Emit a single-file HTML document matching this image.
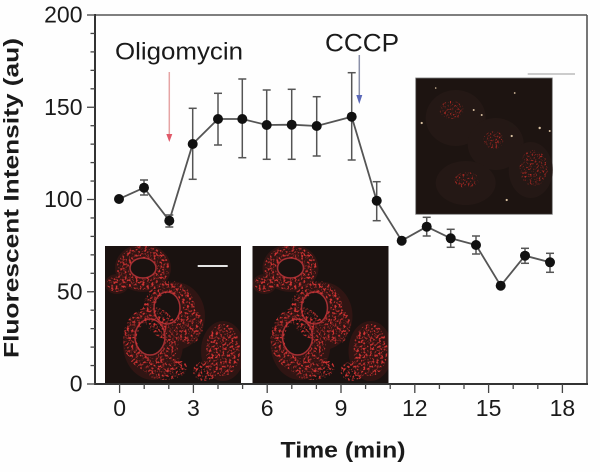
<!DOCTYPE html>
<html><head><meta charset="utf-8">
<style>
html,body{margin:0;padding:0;background:#fefefe;}
svg{display:block;}
text{font-family:"Liberation Sans",Arial,sans-serif;fill:#1a1a1a;}
</style></head>
<body>
<svg width="600" height="472" viewBox="0 0 600 472" xmlns="http://www.w3.org/2000/svg">
<defs>
  <filter id="sp" x="0" y="0" width="136" height="137" filterUnits="userSpaceOnUse" color-interpolation-filters="sRGB">
    <feTurbulence type="fractalNoise" baseFrequency="0.45" numOctaves="2" seed="4" result="n"/>
    <feColorMatrix in="n" type="matrix" values="0 0 0 0 0.82  0 0 0 0 0.2  0 0 0 0 0.2  5 0 0 0 -2.45" result="c"/>
    <feComposite in="c" in2="SourceAlpha" operator="in"/>
  </filter>
  <filter id="sp3" x="0" y="0" width="137" height="137" filterUnits="userSpaceOnUse" color-interpolation-filters="sRGB">
    <feTurbulence type="fractalNoise" baseFrequency="0.55" numOctaves="2" seed="9" result="n"/>
    <feColorMatrix in="n" type="matrix" values="0 0 0 0 0.7  0 0 0 0 0.16  0 0 0 0 0.14  5 0 0 0 -2.7" result="c"/>
    <feComposite in="c" in2="SourceAlpha" operator="in"/>
  </filter>
  <clipPath id="cl"><rect x="0" y="0" width="136" height="137"/></clipPath>
  <g id="cells">
    <rect x="0" y="0" width="136" height="137" fill="#1a1210"/>
    <g clip-path="url(#cl)">
      <g fill="#3c1715" opacity="0.65">
        <ellipse cx="38" cy="22" rx="28" ry="24"/>
        <ellipse cx="12" cy="38" rx="12" ry="10"/>
        <ellipse cx="70" cy="70" rx="30" ry="34"/>
        <ellipse cx="48" cy="98" rx="30" ry="36"/>
        <ellipse cx="118" cy="105" rx="22" ry="30"/>
      </g>
      <g fill="#1a1210">
        <ellipse cx="38" cy="22" rx="12" ry="9"/>
        <ellipse cx="62" cy="62" rx="12" ry="15"/>
        <ellipse cx="45" cy="91" rx="14" ry="17"/>
      </g>
      <g fill="none" stroke="#b8353a" stroke-width="1.5" opacity="0.85">
        <ellipse cx="62" cy="62" rx="13" ry="16"/>
        <ellipse cx="45" cy="91" rx="15" ry="18"/>
        <ellipse cx="38" cy="22" rx="13" ry="10"/>
      </g>
      <g filter="url(#sp)">
        <ellipse cx="38" cy="22" rx="20" ry="16" fill="none" stroke="#fff" stroke-width="12"/>
        <ellipse cx="12" cy="38" rx="10" ry="8" fill="#fff"/>
        <ellipse cx="64" cy="64" rx="20" ry="23" fill="none" stroke="#fff" stroke-width="12"/>
        <ellipse cx="84" cy="80" rx="14" ry="18" fill="#fff"/>
        <ellipse cx="46" cy="93" rx="21" ry="25" fill="none" stroke="#fff" stroke-width="14"/>
        <ellipse cx="60" cy="122" rx="22" ry="12" fill="#fff"/>
        <ellipse cx="118" cy="104" rx="17" ry="26" fill="#fff"/>
        <ellipse cx="100" cy="125" rx="12" ry="10" fill="#fff"/>
      </g>
    </g>
  </g>
</defs>

<!-- axes box -->
<line x1="95" y1="15" x2="587" y2="15" stroke="#555" stroke-width="1.6"/>
<line x1="587" y1="15" x2="587" y2="384" stroke="#555" stroke-width="1.6"/>
<line x1="95" y1="14" x2="95" y2="385" stroke="#333" stroke-width="2"/>
<line x1="94" y1="384" x2="588" y2="384" stroke="#333" stroke-width="2"/>

<!-- y ticks -->
<g stroke="#444" stroke-width="1.3">
  <line x1="87" y1="15" x2="95" y2="15"/>
  <line x1="87" y1="107.25" x2="95" y2="107.25"/>
  <line x1="87" y1="199.5" x2="95" y2="199.5"/>
  <line x1="87" y1="291.75" x2="95" y2="291.75"/>
  <line x1="87" y1="384" x2="95" y2="384"/>
  <line x1="90.5" y1="33.45" x2="95" y2="33.45"/>
  <line x1="90.5" y1="51.9" x2="95" y2="51.9"/>
  <line x1="90.5" y1="70.35" x2="95" y2="70.35"/>
  <line x1="90.5" y1="88.8" x2="95" y2="88.8"/>
  <line x1="90.5" y1="125.7" x2="95" y2="125.7"/>
  <line x1="90.5" y1="144.15" x2="95" y2="144.15"/>
  <line x1="90.5" y1="162.6" x2="95" y2="162.6"/>
  <line x1="90.5" y1="181.05" x2="95" y2="181.05"/>
  <line x1="90.5" y1="217.95" x2="95" y2="217.95"/>
  <line x1="90.5" y1="236.4" x2="95" y2="236.4"/>
  <line x1="90.5" y1="254.85" x2="95" y2="254.85"/>
  <line x1="90.5" y1="273.3" x2="95" y2="273.3"/>
  <line x1="90.5" y1="310.2" x2="95" y2="310.2"/>
  <line x1="90.5" y1="328.65" x2="95" y2="328.65"/>
  <line x1="90.5" y1="347.1" x2="95" y2="347.1"/>
  <line x1="90.5" y1="365.55" x2="95" y2="365.55"/>
</g>
<!-- x ticks -->
<g stroke="#444" stroke-width="1.3">
  <line x1="119.6" y1="384" x2="119.6" y2="393"/>
  <line x1="193.4" y1="384" x2="193.4" y2="393"/>
  <line x1="267.2" y1="384" x2="267.2" y2="393"/>
  <line x1="341" y1="384" x2="341" y2="393"/>
  <line x1="414.8" y1="384" x2="414.8" y2="393"/>
  <line x1="488.6" y1="384" x2="488.6" y2="393"/>
  <line x1="562.4" y1="384" x2="562.4" y2="393"/>
  <line x1="144.2" y1="384" x2="144.2" y2="389"/>
  <line x1="168.8" y1="384" x2="168.8" y2="389"/>
  <line x1="218" y1="384" x2="218" y2="389"/>
  <line x1="242.6" y1="384" x2="242.6" y2="389"/>
  <line x1="291.8" y1="384" x2="291.8" y2="389"/>
  <line x1="316.4" y1="384" x2="316.4" y2="389"/>
  <line x1="365.6" y1="384" x2="365.6" y2="389"/>
  <line x1="390.2" y1="384" x2="390.2" y2="389"/>
  <line x1="439.4" y1="384" x2="439.4" y2="389"/>
  <line x1="464" y1="384" x2="464" y2="389"/>
  <line x1="513.2" y1="384" x2="513.2" y2="389"/>
  <line x1="537.8" y1="384" x2="537.8" y2="389"/>
</g>

<!-- y tick labels -->
<g font-size="23" text-anchor="end">
  <text x="82.5" y="22.5">200</text>
  <text x="82.5" y="114.8">150</text>
  <text x="82.5" y="207">100</text>
  <text x="82.5" y="299.3">50</text>
  <text x="82.5" y="391.5">0</text>
</g>
<!-- x tick labels -->
<g font-size="23" text-anchor="middle">
  <text x="119.6" y="416">0</text>
  <text x="193.4" y="416">3</text>
  <text x="267.2" y="416">6</text>
  <text x="341" y="416">9</text>
  <text x="414.8" y="416">12</text>
  <text x="488.6" y="416">15</text>
  <text x="562.4" y="416">18</text>
</g>

<!-- axis titles -->
<text x="280.5" y="457.7" font-size="22" font-weight="bold" textLength="125" lengthAdjust="spacingAndGlyphs">Time (min)</text>
<text transform="translate(18.5,358) rotate(-90)" x="0" y="0" font-size="21" font-weight="bold" textLength="320" lengthAdjust="spacingAndGlyphs">Fluorescent Intensity (au)</text>

<!-- annotations -->
<text x="115" y="59.3" font-size="24" textLength="128" lengthAdjust="spacingAndGlyphs">Oligomycin</text>
<text x="325" y="51.7" font-size="25" textLength="74" lengthAdjust="spacingAndGlyphs">CCCP</text>
<line x1="169.3" y1="72" x2="169.3" y2="137" stroke="#e6a4a4" stroke-width="1.5"/>
<polygon points="166.3,134 172.3,134 169.3,142" fill="#e05868"/>
<line x1="359.3" y1="55" x2="359.3" y2="97" stroke="#8a90a8" stroke-width="1.5"/>
<polygon points="356.3,95 362.3,95 359.3,104" fill="#5a68b8"/>

<!-- inset images -->
<g transform="translate(105,246)"><use href="#cells"/></g>
<line x1="197.7" y1="266" x2="227.7" y2="266" stroke="#e4e4e4" stroke-width="2"/>
<g transform="translate(252.5,246)"><use href="#cells"/></g>

<g transform="translate(415.7,78)">
  <rect x="0" y="0" width="136.6" height="136.3" fill="#1d1411" stroke="#777" stroke-width="0.8"/>
  <g fill="#251916" opacity="0.9">
    <ellipse cx="40" cy="40" rx="30" ry="28"/>
    <ellipse cx="80" cy="66" rx="28" ry="26"/>
    <ellipse cx="115" cy="92" rx="22" ry="28"/>
    <ellipse cx="50" cy="105" rx="30" ry="22"/>
  </g>
  <g filter="url(#sp3)">
    <ellipse cx="36" cy="32" rx="12" ry="9" fill="#fff"/>
    <ellipse cx="78" cy="62" rx="10" ry="9" fill="#fff"/>
    <ellipse cx="118" cy="90" rx="14" ry="18" fill="#fff"/>
    <ellipse cx="51" cy="102" rx="12" ry="8" fill="#fff"/>
  </g>
  <g fill="#d8c0a0">
    <circle cx="6" cy="45" r="1.1"/><circle cx="124" cy="50" r="1.2"/>
    <circle cx="96" cy="58" r="1.1"/><circle cx="58" cy="32" r="1"/>
    <circle cx="66" cy="37" r="1"/><circle cx="91" cy="122" r="1.1"/>
    <circle cx="99" cy="15" r="0.9"/><circle cx="134" cy="53" r="1"/>
    <circle cx="20" cy="10" r="0.8"/>
  </g>
</g>
<line x1="527.7" y1="74" x2="575" y2="74" stroke="#9a9a9a" stroke-width="1"/>

<!-- data line -->
<polyline fill="none" stroke="#555" stroke-width="1.8"
 points="119,199 144,187.7 169.3,220.7 192.7,144 218,119 242.3,119 266.7,125 291.7,124.7 316.7,126 351.7,116.7 376.7,200.7 401.7,240.7 426.7,226.7 450.7,238.3 476,245 500.7,285.7 525,255.7 550,262.3"/>

<!-- error bars -->
<g stroke="#555" stroke-width="1.5">
  <line x1="144" y1="180" x2="144" y2="195"/><line x1="140" y1="180" x2="148" y2="180"/><line x1="140" y1="195" x2="148" y2="195"/>
  <line x1="169.3" y1="215" x2="169.3" y2="227"/><line x1="165.3" y1="215" x2="173.3" y2="215"/><line x1="165.3" y1="227" x2="173.3" y2="227"/>
  <line x1="192.7" y1="108.3" x2="192.7" y2="179.3"/><line x1="188.7" y1="108.3" x2="196.7" y2="108.3"/><line x1="188.7" y1="179.3" x2="196.7" y2="179.3"/>
  <line x1="218" y1="93.3" x2="218" y2="145"/><line x1="214" y1="93.3" x2="222" y2="93.3"/><line x1="214" y1="145" x2="222" y2="145"/>
  <line x1="242.3" y1="79" x2="242.3" y2="157.7"/><line x1="238.3" y1="79" x2="246.3" y2="79"/><line x1="238.3" y1="157.7" x2="246.3" y2="157.7"/>
  <line x1="266.7" y1="90" x2="266.7" y2="159.3"/><line x1="262.7" y1="90" x2="270.7" y2="90"/><line x1="262.7" y1="159.3" x2="270.7" y2="159.3"/>
  <line x1="291.7" y1="89.3" x2="291.7" y2="159.3"/><line x1="287.7" y1="89.3" x2="295.7" y2="89.3"/><line x1="287.7" y1="159.3" x2="295.7" y2="159.3"/>
  <line x1="316.7" y1="96.7" x2="316.7" y2="156"/><line x1="312.7" y1="96.7" x2="320.7" y2="96.7"/><line x1="312.7" y1="156" x2="320.7" y2="156"/>
  <line x1="351.7" y1="72.7" x2="351.7" y2="160"/><line x1="347.7" y1="72.7" x2="355.7" y2="72.7"/><line x1="347.7" y1="160" x2="355.7" y2="160"/>
  <line x1="376.7" y1="181.7" x2="376.7" y2="220.7"/><line x1="372.7" y1="181.7" x2="380.7" y2="181.7"/><line x1="372.7" y1="220.7" x2="380.7" y2="220.7"/>
  <line x1="426.7" y1="217.3" x2="426.7" y2="236"/><line x1="422.7" y1="217.3" x2="430.7" y2="217.3"/><line x1="422.7" y1="236" x2="430.7" y2="236"/>
  <line x1="450.7" y1="229.3" x2="450.7" y2="247.3"/><line x1="446.7" y1="229.3" x2="454.7" y2="229.3"/><line x1="446.7" y1="247.3" x2="454.7" y2="247.3"/>
  <line x1="476" y1="236" x2="476" y2="254"/><line x1="472" y1="236" x2="480" y2="236"/><line x1="472" y1="254" x2="480" y2="254"/>
  <line x1="525" y1="248.3" x2="525" y2="263.3"/><line x1="521" y1="248.3" x2="529" y2="248.3"/><line x1="521" y1="263.3" x2="529" y2="263.3"/>
  <line x1="550" y1="253.3" x2="550" y2="272.3"/><line x1="546" y1="253.3" x2="554" y2="253.3"/><line x1="546" y1="272.3" x2="554" y2="272.3"/>
</g>

<!-- markers -->
<g fill="#111">
  <circle cx="119" cy="199" r="5"/><circle cx="144" cy="187.7" r="5"/><circle cx="169.3" cy="220.7" r="5"/>
  <circle cx="192.7" cy="144" r="5"/><circle cx="218" cy="119" r="5"/><circle cx="242.3" cy="119" r="5"/>
  <circle cx="266.7" cy="125" r="5"/><circle cx="291.7" cy="124.7" r="5"/><circle cx="316.7" cy="126" r="5"/>
  <circle cx="351.7" cy="116.7" r="5"/><circle cx="376.7" cy="200.7" r="5"/><circle cx="401.7" cy="240.7" r="5"/>
  <circle cx="426.7" cy="226.7" r="5"/><circle cx="450.7" cy="238.3" r="5"/><circle cx="476" cy="245" r="5"/>
  <circle cx="500.7" cy="285.7" r="5"/><circle cx="525" cy="255.7" r="5"/><circle cx="550" cy="262.3" r="5"/>
</g>
</svg>
</body></html>
